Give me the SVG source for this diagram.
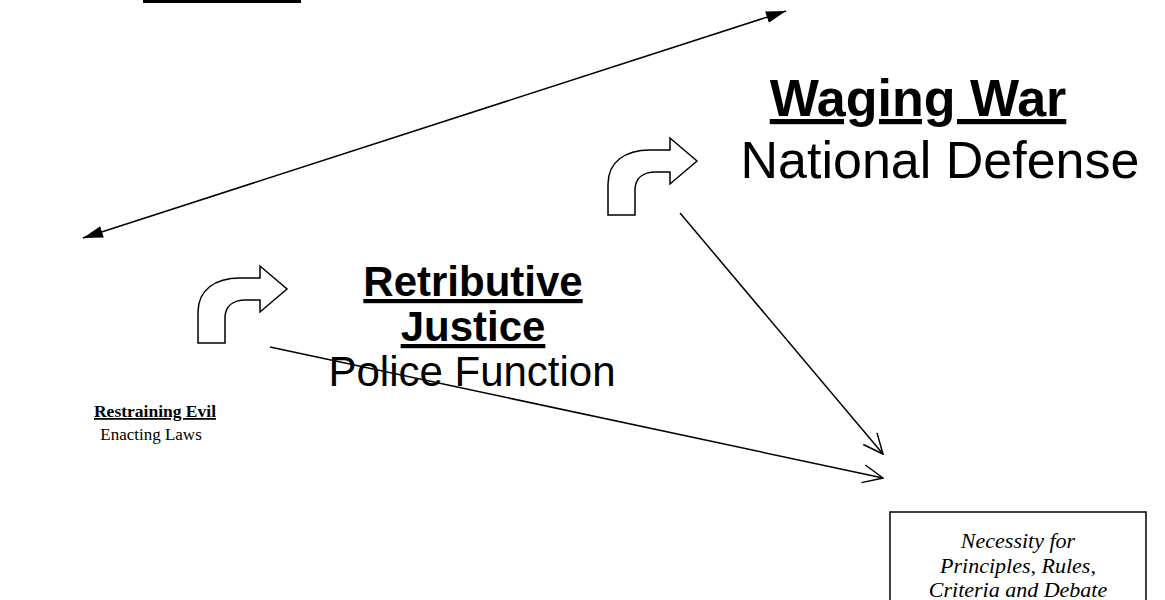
<svg xmlns="http://www.w3.org/2000/svg" width="1165" height="600" viewBox="0 0 1165 600">
<style>
.sans{font-family:"Liberation Sans",Arial,sans-serif;fill:#000}
.serif{font-family:"Liberation Serif","Times New Roman",serif;fill:#000}
.line{stroke:#000;stroke-width:1.5;fill:none}
.bent{fill:#fff;stroke:#000;stroke-width:1.5;stroke-linejoin:miter}
</style>
<defs>
<marker id="solid" viewBox="0 0 20 12" refX="20" refY="6" markerWidth="20" markerHeight="12" markerUnits="userSpaceOnUse" orient="auto-start-reverse">
<path d="M0,0 L20,6 L0,12 Z" fill="#000"/>
</marker>
<marker id="open" viewBox="0 0 22 20" refX="21" refY="10" markerWidth="22" markerHeight="20" markerUnits="userSpaceOnUse" orient="auto">
<path d="M1,1 L21,10 L1,19" fill="none" stroke="#000" stroke-width="1.5"/>
</marker>
<path id="bentArrow" d="M198,343 L198,312 C198,290 215,278 240,278 L260,278 L260,266 L287,289 L260,312 L260,300 L246,300 C233,300 225,306 225,318 L225,343 Z"/>
</defs>
<rect width="1165" height="600" fill="#fff"/>
<g id="top-cut-label"><rect x="143" y="0" width="158" height="3" fill="#000"/></g>
<g id="connectors">
<line class="line" x1="83" y1="238" x2="786" y2="11" marker-start="url(#solid)" marker-end="url(#solid)"/>
<line class="line" x1="270" y1="347" x2="883" y2="478" marker-end="url(#open)"/>
<line class="line" x1="680" y1="213" x2="883" y2="454" marker-end="url(#open)"/>
</g>
<g id="bent-arrow-1"><use href="#bentArrow" class="bent"/></g>
<g id="bent-arrow-2"><use href="#bentArrow" class="bent" transform="translate(410,-128)"/></g>
<g id="waging-war">
<text class="sans" x="918" y="116" font-size="52" font-weight="bold" text-anchor="middle" text-decoration="underline">Waging War</text>
<text class="sans" x="940" y="178" font-size="52" text-anchor="middle">National Defense</text>
</g>
<g id="retributive-justice">
<text class="sans" x="473" y="296" font-size="42" font-weight="bold" text-anchor="middle" text-decoration="underline">Retributive</text>
<text class="sans" x="473" y="341" font-size="42" font-weight="bold" text-anchor="middle" text-decoration="underline">Justice</text>
<text class="sans" x="472" y="386" font-size="42" text-anchor="middle">Police Function</text>
</g>
<g id="restraining-evil">
<text class="serif" x="155" y="417" font-size="17.5" font-weight="bold" text-anchor="middle" text-decoration="underline">Restraining Evil</text>
<text class="serif" x="151" y="440" font-size="17" text-anchor="middle">Enacting Laws</text>
</g>
<g id="necessity">
<rect x="890" y="512" width="256" height="110" fill="#fff" stroke="#000" stroke-width="1.5"/>
<text class="serif" font-style="italic" font-size="22" text-anchor="middle"><tspan x="1018" y="548">Necessity for</tspan><tspan x="1018" y="573">Principles, Rules,</tspan><tspan x="1018" y="597">Criteria and Debate</tspan></text>
</g>
</svg>
